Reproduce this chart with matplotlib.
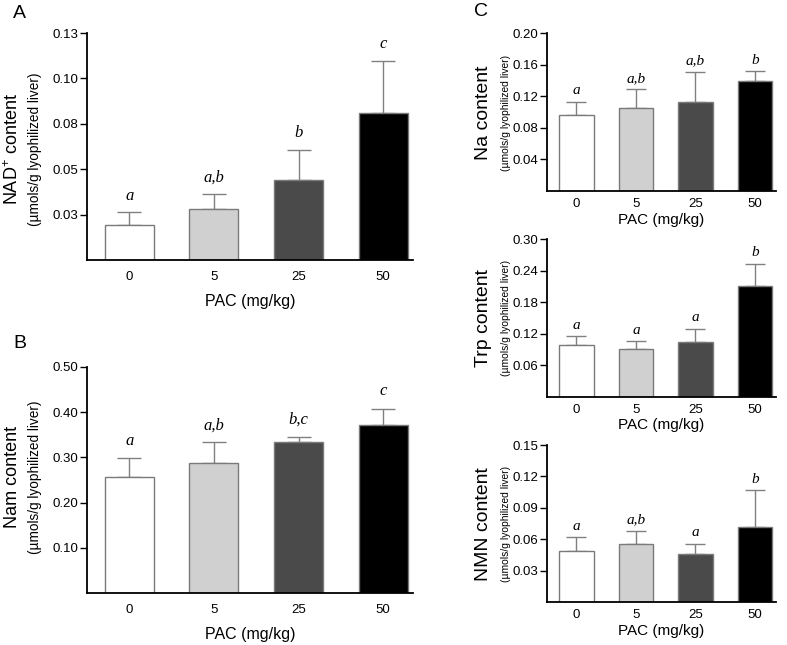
import matplotlib
matplotlib.use("Agg")
import matplotlib.pyplot as plt

plt.rcParams['font.family'] = ['Liberation Sans', 'DejaVu Sans']
plt.rcParams['mathtext.fontset'] = 'custom'
plt.rcParams['mathtext.rm'] = 'Liberation Sans'
plt.rcParams['mathtext.it'] = 'Liberation Sans:italic'

# doses
doses = ["0", "5", "25", "50"]
bar_colors = ["#ffffff", "#d0d0d0", "#4a4a4a", "#000000"]

# A: NAD+
nad_mean = [0.0193, 0.0281, 0.0441, 0.0808]
nad_err = [0.0070, 0.0081, 0.0165, 0.0288]
nad_letters = ["a", "a,b", "b", "c"]
nad_ticks = [0.025, 0.05, 0.075, 0.10, 0.125]
nad_ticklabels = ["0.03", "0.05", "0.08", "0.10", "0.13"]

# B: Nam
nam_mean = [0.257, 0.287, 0.334, 0.372]
nam_err = [0.042, 0.046, 0.011, 0.036]
nam_letters = ["a", "a,b", "b,c", "c"]
nam_ticks = [0.10, 0.20, 0.30, 0.40, 0.50]

# C: Na
na_mean = [0.096, 0.105, 0.113, 0.139]
na_err = [0.017, 0.024, 0.038, 0.013]
na_letters = ["a", "a,b", "a,b", "b"]
na_ticks = [0.04, 0.08, 0.12, 0.16, 0.20]

# C: Trp
trp_mean = [0.0975, 0.090, 0.104, 0.2105]
trp_err = [0.018, 0.015, 0.025, 0.0425]
trp_letters = ["a", "a", "a", "b"]
trp_ticks = [0.06, 0.12, 0.18, 0.24, 0.30]

# C: NMN
nmn_mean = [0.049, 0.056, 0.046, 0.072]
nmn_err = [0.013, 0.0124, 0.010, 0.035]
nmn_letters = ["a", "a,b", "a", "b"]
nmn_ticks = [0.03, 0.06, 0.09, 0.12, 0.15]

W, H = 787, 645
fig = plt.figure(figsize=(W / 100, H / 100), dpi=100)


def px_axes(left, top, right, bottom):
    return fig.add_axes([left / W, 1 - bottom / H, (right - left) / W, (bottom - top) / H])


def panel(ax, means, errs, letters, ticks, ticklabels, capsize, letter_off, big):
    x = range(len(means))
    ax.bar(x, means, width=0.58, color=bar_colors, edgecolor="#7a7a7a", linewidth=1, zorder=2)
    ax.errorbar(x, means, yerr=[[0] * len(errs), errs], fmt="none", ecolor="#808080",
                elinewidth=1, capsize=capsize, capthick=1, zorder=1)
    for i in x:
        ax.annotate(letters[i], (i, means[i] + errs[i]), xytext=(0, letter_off),
                    textcoords="offset points", ha="center", va="baseline",
                    family="Liberation Serif", style="italic",
                    fontsize=12 if big else 11)
    ax.set_xlim(-0.5, 3.35)
    ax.set_ylim(0, ticks[-1])
    ax.set_yticks(ticks)
    ax.set_yticklabels(ticklabels if ticklabels else ["%.2f" % t for t in ticks])
    ax.set_xticks(list(x))
    ax.set_xticklabels(doses)
    for s in ["top", "right"]:
        ax.spines[s].set_visible(False)
    for s in ["left", "bottom"]:
        ax.spines[s].set_linewidth(1.3)
    ax.tick_params(axis="y", length=5, width=1, pad=1, labelsize=9.5)
    ax.tick_params(axis="x", length=0, pad=8 if big else 5, labelsize=9.5)


axA = px_axes(87, 33, 412.75, 260)
panel(axA, nad_mean, nad_err, nad_letters, nad_ticks, nad_ticklabels, 8.5, 9, True)
axA.set_xlabel("PAC (mg/kg)", fontsize=11.5, labelpad=8)

axB = px_axes(87, 367, 412.75, 593)
panel(axB, nam_mean, nam_err, nam_letters, nam_ticks, None, 8.5, 9.5, True)
axB.set_xlabel("PAC (mg/kg)", fontsize=11.5, labelpad=8)

axNa = px_axes(546.7, 33.3, 775.6, 190.8)
panel(axNa, na_mean, na_err, na_letters, na_ticks, None, 7.5, 5.3, False)
axNa.set_xlabel("PAC (mg/kg)", fontsize=11, labelpad=2)

axTrp = px_axes(546.7, 239, 775.6, 396.6)
panel(axTrp, trp_mean, trp_err, trp_letters, trp_ticks, None, 7.5, 5.3, False)
axTrp.set_xlabel("PAC (mg/kg)", fontsize=11, labelpad=2)

axNmn = px_axes(546.7, 445, 775.6, 602.4)
panel(axNmn, nmn_mean, nmn_err, nmn_letters, nmn_ticks, None, 7.5, 5.3, False)
axNmn.set_xlabel("PAC (mg/kg)", fontsize=11, labelpad=2)

sub = "(\u00b5mols/g lyophilized liver)"


def ylab(xb, xs, yc, text, bsize, ssize):
    fig.text(xb / W, 1 - yc / H, text, rotation=90, ha="center", va="center", fontsize=bsize)
    fig.text(xs / W, 1 - yc / H, sub, rotation=90, ha="center", va="center", fontsize=ssize)


ylab(13, 35, 149, r"NAD$^{+}$ content", 13, 9.8)
ylab(13, 35, 477, "Nam content", 13, 9.8)
ylab(483.5, 506, 113, "Na content", 14, 7.4)
ylab(483.5, 506, 318, "Trp content", 14, 7.4)
ylab(483.5, 506, 524, "NMN content", 14, 7.4)

for lab, xx, yy in [("A", 19, 13), ("B", 20, 343), ("C", 481.5, 11)]:
    fig.text(xx / W, 1 - yy / H, lab, ha="center", va="center", fontsize=14)

fig.savefig("out.png", dpi=100)
